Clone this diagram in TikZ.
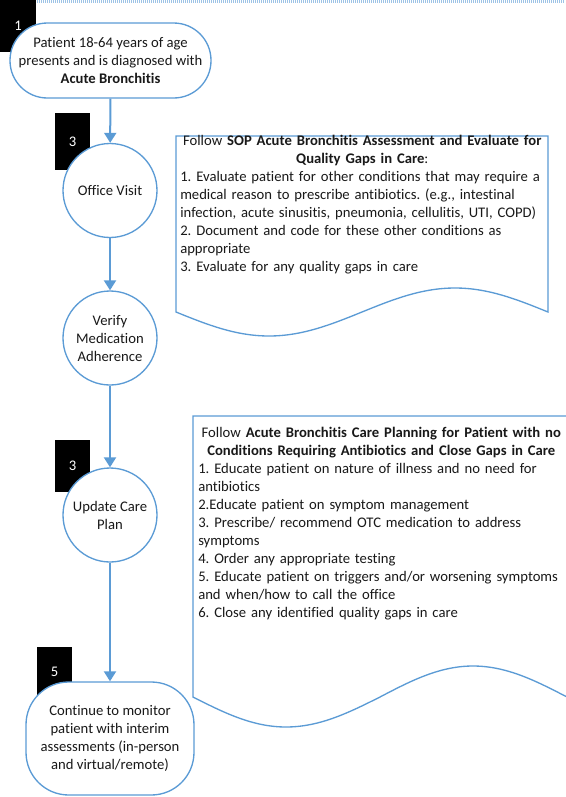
\documentclass[tikz,border=0pt]{standalone}
\usepackage{fontspec}
\setmainfont{Carlito}[Ligatures=NoCommon]
\usetikzlibrary{arrows.meta}
\definecolor{lnblue}{HTML}{5B9BD5}
\definecolor{dotblue}{HTML}{9DC3E6}
\frenchspacing
\begin{document}
\begin{tikzpicture}[x=0.75pt,y=-0.75pt,
  every node/.style={font=\fontsize{11}{13.5}\selectfont\frenchspacing, text=black!90},
  blk/.style={fill=black, text=white, minimum width=26.25pt, inner sep=0},
  circ/.style={circle, draw=lnblue, line width=1pt, fill=white, minimum size=70.5pt, inner sep=0, align=center},
  term/.style={rectangle, draw=lnblue, line width=1pt, fill=white, inner sep=0, align=center},
  arr/.style={draw=lnblue, line width=1.5pt, -{Triangle[width=9pt,length=7.5pt]}},
  docshape/.style={draw=lnblue, line width=1pt, fill=white},
  txt/.style={inner sep=0, anchor=base west}
]
\useasboundingbox (0,0) rectangle (565,797);

% top dotted rule
\draw[dotblue, line width=2pt, dash pattern=on 0.75pt off 0.75pt] (35,1.5) -- (565,1.5);

% black step tags
\node[blk, minimum height=39pt] (n1) at (18,26) {1};
\node[blk, minimum height=42.75pt] (n3a) at (72.5,141.5) {3};
\node[blk, minimum height=39pt] (n3b) at (72.5,466) {3};
\node[blk, minimum height=37.5pt] (n5) at (54.5,672) {5};

% flow shapes
\node[term, minimum width=150.75pt, minimum height=56.25pt, rounded corners=28pt] (t1) at (110.5,60.5)
  {Patient 18-64 years of age\\presents and is diagnosed with\\\textbf{Acute Bronchitis}};
\node[circ] (ov) at (110,190.5) {Office Visit};
\node[circ] (vm) at (110,338) {Verify\\Medication\\Adherence};
\node[circ] (uc) at (110,515) {Update Care\\Plan};
\node[term, minimum width=126pt, minimum height=84.75pt, rounded corners=32pt] (t5) at (110,738.5)
  {Continue to monitor\\patient with interim\\assessments (in-person\\and virtual/remote)};

% connectors
\draw[arr] (t1) -- (ov);
\draw[arr] (ov) -- (vm);
\draw[arr] (vm) -- (uc);
\draw[arr] (uc) -- (t5);

% document shapes
\draw[docshape] (548,312) -- (548,136) -- (176,136) -- (176,312)
  sin (269,336) cos (362,312) sin (455,288) cos (548,312) -- cycle;
\draw[docshape] (567,697) -- (567,416) -- (193,416) -- (193,697)
  sin (286,727) cos (380,697) sin (473,666) cos (567,697) -- cycle;

% document texts
\node[txt, text width=273pt] (d1) at (180,145.5) {\centering Follow \textbf{SOP Acute Bronchitis Assessment and Evaluate for}\\
\textbf{Quality Gaps in Care}:\par
\raggedright
1. Evaluate patient for other conditions that may require a\\
medical reason to prescribe antibiotics. (e.g., intestinal\\
infection, acute sinusitis, pneumonia, cellulitis, UTI, COPD)\\
2. Document and code for these other conditions as\\
appropriate\\
3. Evaluate for any quality gaps in care\par};

\node[txt, text width=274.5pt] (d2) at (198,437.5) {\centering Follow \textbf{Acute Bronchitis Care Planning for Patient with no}\\
\textbf{Conditions Requiring Antibiotics and Close Gaps in Care}\par
\raggedright
1. Educate patient on nature of illness and no need for\\
antibiotics\\
2.Educate patient on symptom management\\
3. Prescribe/ recommend OTC medication to address\\
symptoms\\
4. Order any appropriate testing\\
5. Educate patient on triggers and/or worsening symptoms\\
and when/how to call the office\\
6. Close any identified quality gaps in care\par};
\end{tikzpicture}
\end{document}
